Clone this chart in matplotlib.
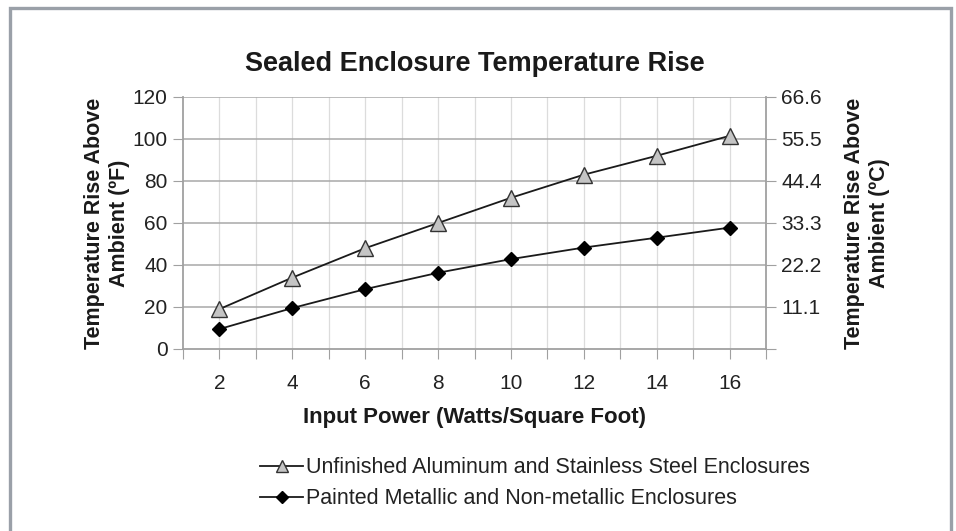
import matplotlib.pyplot as plt
from matplotlib.lines import Line2D
from matplotlib.patches import Rectangle

plt.rcParams['font.family'] = ['Liberation Sans', 'DejaVu Sans']

# ── Data ─────────────────────────────────────────────────────────────────────
power = [2, 4, 6, 8, 10, 12, 14, 16]
unfinished = [19, 34, 48, 60, 72, 83, 92, 101.5]
painted = [9.5, 19.5, 28.5, 36.3, 42.8, 48.3, 53, 57.8]

f_ticks = [0, 20, 40, 60, 80, 100, 120]
c_ticks = [20, 40, 60, 80, 100, 120]
c_labels = ['11.1', '22.2', '33.3', '44.4', '55.5', '66.6']
x_labels = [2, 4, 6, 8, 10, 12, 14, 16]

label_unf = 'Unfinished Aluminum and Stainless Steel Enclosures'
label_pnt = 'Painted Metallic and Non-metallic Enclosures'

# ── Figure ───────────────────────────────────────────────────────────────────
fig = plt.figure(figsize=(9.56, 5.31), dpi=100)
W, H = 956, 531
ax = fig.add_axes([183 / W, 1 - 349 / H, (766 - 183) / W, (349 - 97) / H])

# outer frame
fig.patches.append(Rectangle((10 / W, -0.1), (951 - 10) / W, 1.1 - 8 / H,
                             transform=fig.transFigure, fill=False,
                             edgecolor='#9aa0a8', lw=2.4, zorder=0))

ax.set_xlim(1, 17)
ax.set_ylim(0, 120)

# grid
for xv in range(2, 17):
    ax.axvline(xv, color='#dcdcdc', lw=0.9, zorder=0)
for yv in f_ticks[1:]:
    ax.axhline(yv, color='#a8a8a8', lw=1.1, zorder=0)

ax.plot(power, unfinished, color='#1a1a1a', lw=1.3, marker='^', ms=11,
        mfc='#c4c4c4', mec='#333333', mew=1.0, zorder=3)
ax.plot(power, painted, color='#1a1a1a', lw=1.3, marker='D', ms=7.5,
        mfc='black', mec='black', zorder=3)

for side in ['left', 'right', 'bottom']:
    ax.spines[side].set_color('#a0a0a0')
    ax.spines[side].set_linewidth(1.3)
ax.spines['top'].set_visible(False)

ax.set_yticks(f_ticks)
ax.tick_params(axis='y', length=7, color='#a0a0a0', labelsize=15,
               labelcolor='#222222', pad=4)
ax.set_xticks(range(1, 18))
ax.set_xticklabels([str(v) if v in x_labels else '' for v in range(1, 18)])
ax.tick_params(axis='x', length=7, color='#a0a0a0', labelsize=15,
               labelcolor='#222222', pad=11)

ax2 = ax.twinx()
ax2.set_ylim(0, 120)
ax2.set_yticks([0] + c_ticks)
ax2.set_yticklabels([''] + c_labels)
ax2.tick_params(axis='y', length=7, color='#a0a0a0', labelsize=15,
                labelcolor='#222222', pad=4)
for side in ['left', 'right', 'bottom', 'top']:
    ax2.spines[side].set_visible(False)

ax.set_title('Sealed Enclosure Temperature Rise', fontsize=19.5,
             fontweight='bold', color='#1a1a1a', pad=19)
ax.set_xlabel('Input Power (Watts/Square Foot)', fontsize=16,
              fontweight='bold', color='#1a1a1a', labelpad=10)
ax.set_ylabel('Temperature Rise Above\nAmbient (ºF)', fontsize=15.5,
              fontweight='bold', color='#1a1a1a', labelpad=2,
              linespacing=1.25)
ax2.set_ylabel('Temperature Rise Above\nAmbient (ºC)', fontsize=15.5,
               fontweight='bold', color='#1a1a1a', labelpad=16,
               linespacing=1.25)

handles = [
    Line2D([], [], color='#1a1a1a', lw=1.3, marker='^', ms=8,
           mfc='#c4c4c4', mec='#333333'),
    Line2D([], [], color='#1a1a1a', lw=1.3, marker='D', ms=6,
           mfc='black', mec='black'),
]
fig.legend(handles, [label_unf, label_pnt], loc='upper left',
           bbox_to_anchor=(241 / W, 1 - 438 / H), frameon=False,
           fontsize=15.5, handlelength=2.0, handletextpad=0.1,
           labelspacing=0.45, labelcolor='#222222')

fig.savefig('out.png', dpi=100)
